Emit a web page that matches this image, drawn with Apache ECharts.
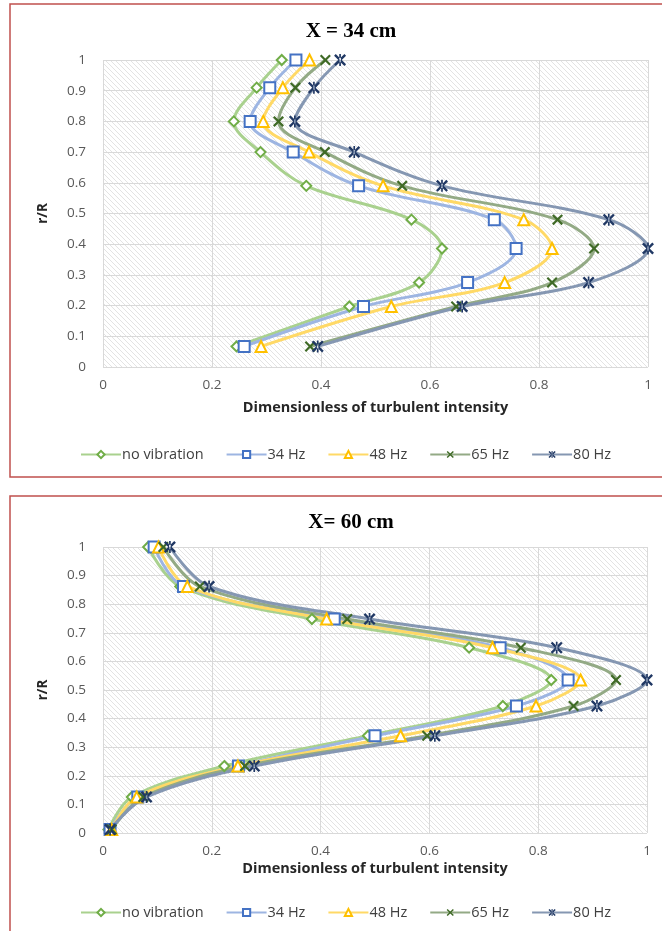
<!DOCTYPE html>
<html>
<head>
<meta charset="utf-8">
<script src="https://cdn.jsdelivr.net/npm/echarts@6/dist/echarts.min.js"></script>
<style>
html,body{margin:0;padding:0;background:#fff;}
#c{width:662px;height:931px;}
</style>
</head>
<body>
<div id="c"></div>
<script>
// ---------- DATA ----------
const seriesNames = ['no vibration', '34 Hz', '48 Hz', '65 Hz', '80 Hz'];
const xTicks = [0, 0.2, 0.4, 0.6, 0.8, 1];
const yTicks = [0, 0.1, 0.2, 0.3, 0.4, 0.5, 0.6, 0.7, 0.8, 0.9, 1];

// X = 34 cm : r/R positions and turbulent intensity values
const r34 = [1.0, 0.91, 0.80, 0.70, 0.59, 0.48, 0.386, 0.275, 0.197, 0.067];
const noVib34 = [0.328, 0.282, 0.240, 0.289, 0.373, 0.566, 0.622, 0.580, 0.452, 0.245];
const hz34_34 = [0.354, 0.306, 0.270, 0.349, 0.469, 0.718, 0.758, 0.669, 0.478, 0.259];
const hz48_34 = [0.379, 0.330, 0.294, 0.378, 0.514, 0.772, 0.824, 0.737, 0.529, 0.290];
const hz65_34 = [0.408, 0.353, 0.322, 0.407, 0.549, 0.834, 0.901, 0.824, 0.648, 0.380];
const hz80_34 = [0.435, 0.387, 0.352, 0.461, 0.622, 0.928, 1.000, 0.891, 0.659, 0.394];

// X = 60 cm
const r60 = [1.0, 0.862, 0.748, 0.648, 0.535, 0.444, 0.340, 0.234, 0.126, 0.012];
const noVib60 = [0.083, 0.142, 0.384, 0.673, 0.824, 0.735, 0.487, 0.223, 0.053, 0.010];
const hz34_60 = [0.094, 0.148, 0.425, 0.730, 0.855, 0.760, 0.500, 0.249, 0.064, 0.013];
const hz48_60 = [0.102, 0.155, 0.411, 0.716, 0.878, 0.796, 0.547, 0.248, 0.062, 0.016];
const hz65_60 = [0.111, 0.178, 0.449, 0.768, 0.943, 0.865, 0.596, 0.261, 0.074, 0.016];
const hz80_60 = [0.123, 0.195, 0.490, 0.834, 1.000, 0.908, 0.610, 0.278, 0.080, 0.013];

// ---------- STYLE ----------
const X_PATH = 'path://M0,1.4 L1.4,0 L5,3.6 L8.6,0 L10,1.4 L6.4,5 L10,8.6 L8.6,10 L5,6.4 L1.4,10 L0,8.6 L3.6,5 Z';
const AST_PATH = 'path://M0,1.4 L1.4,0 L5,3.6 L8.6,0 L10,1.4 L6.4,5 L10,8.6 L8.6,10 L5,6.4 L1.4,10 L0,8.6 L3.6,5 Z M4.3,0 L4.3,10 L5.7,10 L5.7,0 Z';
const styles = [
  {line:'#a9d18e', mark:'#70ad47', symbol:'diamond', hollow:true, size:10},
  {line:'#9db5e2', mark:'#4472c4', symbol:'rect', hollow:true, size:11},
  {line:'#ffd966', mark:'#ffc000', symbol:'triangle', hollow:true, size:11},
  {line:'#93aa85', mark:'#3f6a26', symbol:X_PATH, hollow:false, size:11},
  {line:'#8597b2', mark:'#203864', symbol:AST_PATH, hollow:false, size:12}
];

function hatch(){
  const s = 5;
  const c = document.createElement('canvas');
  c.width = s; c.height = s;
  const g = c.getContext('2d');
  g.fillStyle = '#ffffff'; g.fillRect(0,0,s,s);
  g.strokeStyle = '#e3e3e3'; g.lineWidth = 1;
  g.beginPath();
  g.moveTo(-1,-1); g.lineTo(s+1,s+1);
  g.moveTo(-1,s-1); g.lineTo(1,s+1);
  g.moveTo(s-1,-1); g.lineTo(s+1,1);
  g.stroke();
  return {image:c, repeat:'repeat'};
}
const pattern = hatch();

function makeSeries(idx, xs, rs, name, st){
  return {
    name: name, type: 'line', xAxisIndex: idx, yAxisIndex: idx,
    data: xs.map((v,i)=>[v, rs[i]]),
    smooth: 0.35,
    symbol: st.symbol, symbolSize: st.size,
    lineStyle: {color: st.line, width: 3},
    itemStyle: st.hollow ? {color:'#ffffff', borderColor: st.mark, borderWidth: 2}
                         : {color: st.mark, borderColor: st.mark, borderWidth: 0},
    emphasis: {disabled: true},
    z: 3 + idx
  };
}

const set34 = [noVib34, hz34_34, hz48_34, hz65_34, hz80_34];
const set60 = [noVib60, hz34_60, hz48_60, hz65_60, hz80_60];
const series = [];
set34.forEach((d,i)=>series.push(makeSeries(0, d, r34, seriesNames[i], styles[i])));
set60.forEach((d,i)=>series.push(makeSeries(1, d, r60, seriesNames[i], styles[i])));

const FONT = '"Open Sans", Lato, sans-serif';
const labelFont = {fontFamily: FONT, fontSize:13.5, color:'#595959'};
function xAxis(idx, gap){
  return {
    type:'value', gridIndex: idx, min: xTicks[0], max: xTicks[xTicks.length-1], interval: 0.2,
    axisLine:{show:false}, axisTick:{show:false},
    axisLabel: Object.assign({margin: 11}, labelFont),
    splitLine:{show:true, lineStyle:{color:'#d9d9d9', width:1}},
    name:'Dimensionless of turbulent intensity', nameLocation:'middle', nameGap: gap,
    nameTextStyle:{fontFamily: FONT, fontSize:14.5, fontWeight:'bold', color:'#262626'}
  };
}
function yAxis(idx){
  return {
    type:'value', gridIndex: idx, min: yTicks[0], max: yTicks[yTicks.length-1], interval: 0.1,
    axisLine:{show:false}, axisTick:{show:false},
    axisLabel: Object.assign({margin: 17}, labelFont),
    splitLine:{show:true, lineStyle:{color:'#d9d9d9', width:1}},
    name:'r/R', nameLocation:'middle', nameGap: 53, nameRotate: 90,
    nameTextStyle:{fontFamily: FONT, fontSize:13.5, fontWeight:'bold', color:'#262626'}
  };
}
function legend(top){
  return {
    data: seriesNames, top: top, left: 75, itemWidth: 40, itemHeight: 9, itemGap: 22,
    textStyle:{fontFamily: FONT, fontSize:14.5, color:'#404040', padding:[0,0,0,-4]},
    selectedMode: false
  };
}

const chart = echarts.init(document.getElementById('c'), null, {renderer:'canvas'});
chart.setOption({
  animation: false,
  backgroundColor: '#ffffff',
  title: [
    {text:'X = 34 cm', left: 346, top: 16, textAlign:'center',
     textStyle:{fontFamily:'"Liberation Serif", "DejaVu Serif", serif', fontSize:21, fontWeight:'bold', color:'#000'}},
    {text:'X= 60 cm', left: 346, top: 507, textAlign:'center',
     textStyle:{fontFamily:'"Liberation Serif", "DejaVu Serif", serif', fontSize:21, fontWeight:'bold', color:'#000'}}
  ],
  grid: [
    {left:103, top:60, width:545, height:307, show:true, backgroundColor: pattern, borderWidth:0},
    {left:103, top:547, width:544, height:286, show:true, backgroundColor: pattern, borderWidth:0}
  ],
  xAxis: [xAxis(0, 33), xAxis(1, 28)],
  yAxis: [yAxis(0), yAxis(1)],
  legend: [legend(442), legend(900)],
  series: series,
  graphic: [
    {type:'rect', shape:{x:10, y:4, width:700, height:473}, style:{fill:'none', stroke:'#c0504d', lineWidth:1.5}, silent:true},
    {type:'rect', shape:{x:10, y:496, width:700, height:500}, style:{fill:'none', stroke:'#c0504d', lineWidth:1.5}, silent:true}
  ]
});
</script>
</body>
</html>
